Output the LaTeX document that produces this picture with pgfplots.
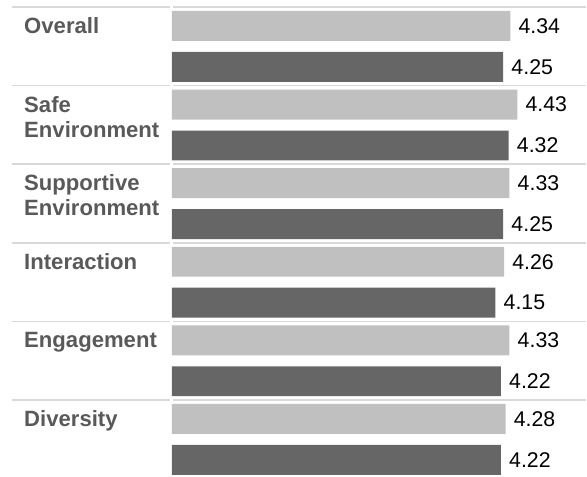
\documentclass[border=0pt]{standalone}
\usepackage{fontspec}
\setmainfont{Liberation Sans}
\usepackage{pgfplots}
\pgfplotsset{compat=1.18}
\definecolor{lightbar}{HTML}{C0C0C0}
\definecolor{darkbar}{HTML}{666666}
\definecolor{sepline}{HTML}{D9D9D9}
\definecolor{labeltext}{HTML}{595959}
\begin{document}
\begin{tikzpicture}
\begin{axis}[
  scale only axis, width=440.25pt, height=357.75pt,
  xmin=-2.2023, xmax=5.3137, ymin=0, ymax=477,
  hide axis, clip=false,
  xbar, bar width=30,
  nodes near coords,
  every node near coord/.append style={font=\fontsize{16}{19}\selectfont, text=black, anchor=west, inner sep=0pt, xshift=6pt},
  /pgf/number format/.cd, fixed, precision=2, fixed zerofill, assume math mode=true,
]
\path (axis cs:-2.2023,0) rectangle (axis cs:5.3137,477);
% separators
\pgfplotsinvokeforeach{470,391.3,312.6,233.9,155.2,76.5}{
  \draw[sepline, line width=1.2pt] (axis cs:-2.0487,#1) -- (axis cs:-0.0256,#1);
  \draw[sepline, line width=1.2pt] (axis cs:0.0128,#1) -- (axis cs:5.3137,#1);
}
\addplot[fill=lightbar, draw=none, bar shift=0pt] coordinates {(4.34,451) (4.43,372.3) (4.33,293.6) (4.26,214.9) (4.33,136.2) (4.28,57.5)};
\addplot[fill=darkbar, draw=none, bar shift=0pt] coordinates {(4.25,410) (4.32,331.3) (4.25,252.6) (4.15,173.9) (4.22,95.2) (4.22,16.5)};
\tikzset{lab/.style={anchor=north west, inner sep=0pt, align=left, font=\bfseries\fontsize{16.6}{18.75}\selectfont, text=labeltext}}
\node[lab] at (axis cs:-1.8950,459.8) {Overall};
\node[lab] at (axis cs:-1.8950,381.1) {Safe\\Environment};
\node[lab] at (axis cs:-1.8950,302.4) {Supportive\\Environment};
\node[lab] at (axis cs:-1.8950,223.7) {Interaction};
\node[lab] at (axis cs:-1.8950,145.0) {Engagement};
\node[lab] at (axis cs:-1.8950,66.3) {Diversity};
\end{axis}
\end{tikzpicture}
\end{document}
